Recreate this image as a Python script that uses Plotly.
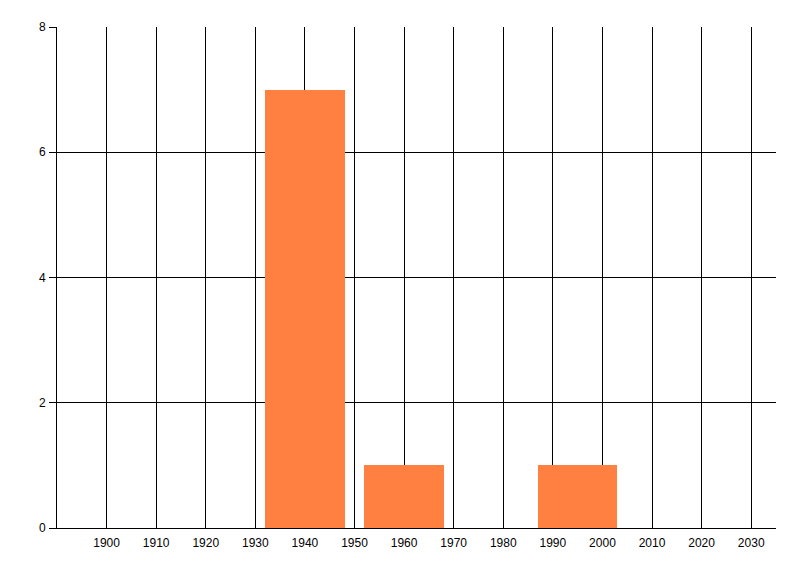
import plotly.graph_objects as go

years = [1940, 1960, 1995]
counts = [7, 1, 1]
bar_width = [16, 16, 16]
x_ticks = list(range(1900, 2031, 10))
y_ticks = [0, 2, 4, 6, 8]

fig = go.Figure(go.Bar(x=years, y=counts, width=bar_width,
                       marker=dict(color="#FF8040", line=dict(width=0))))

# page body has an 8px default margin, so margins are offset to compensate
fig.update_layout(
    width=800, height=576,
    margin=dict(l=49, r=32, t=19, b=56, autoexpand=False),
    paper_bgcolor="white", plot_bgcolor="white",
    showlegend=False,
    font=dict(family="Liberation Sans Narrow, Liberation Sans, Arial, sans-serif", size=12, color="black"),
    bargap=0,
)
fig.update_xaxes(range=[1890, 2035], tickvals=x_ticks, ticktext=[str(v) for v in x_ticks],
                 showgrid=True, gridcolor="black", gridwidth=1,
                 showline=True, linecolor="black", linewidth=1,
                 ticks="", zeroline=False, ticklabelstandoff=4, automargin=False)
fig.update_yaxes(range=[0, 8], tickvals=y_ticks,
                 showgrid=True, gridcolor="black", gridwidth=1,
                 showline=True, linecolor="black", linewidth=1,
                 ticks="outside", ticklen=7, tickcolor="black", tickwidth=1,
                 zeroline=False, ticklabelstandoff=1, automargin=False)

fig.write_html("out.html")
